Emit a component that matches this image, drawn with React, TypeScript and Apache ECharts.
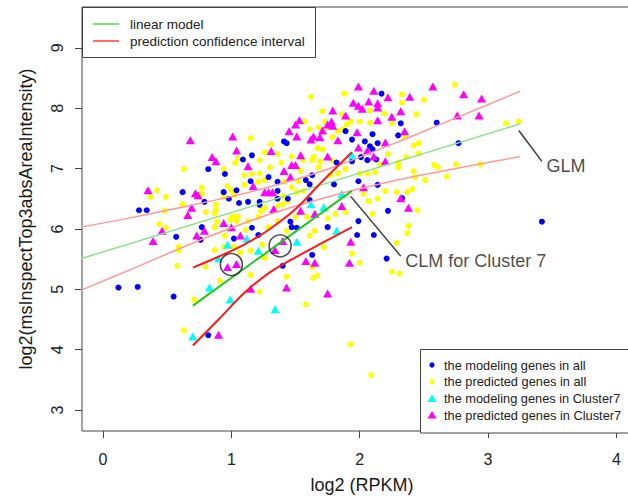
import React, { useEffect, useRef } from "react";
import * as echarts from "echarts";

const FONT = "Liberation Sans, Arial, Helvetica, sans-serif";

const xTicks = [0, 1, 2, 3, 4];
const yTicks = [3, 4, 5, 6, 7, 8, 9];

// the modeling genes in all (blue)
const modelingAll: number[][] = [
  [0.82, 6.99], [0.95, 6.91], [1.09, 7.15], [0.62, 6.61], [0.94, 6.61], [1.04, 6.64], [0.98, 6.5], [0.79, 6.45],
  [1.06, 6.43], [0.28, 6.31], [0.34, 6.31], [0.77, 6.03],
  [2.17, 8.24], [1.89, 7.62], [2.1, 7.57], [1.41, 7.45], [1.43, 7.42], [1.94, 7.48], [2.04, 7.45], [2.08, 7.37],
  [2.14, 7.42], [2.1, 7.32], [1.16, 7.22], [1.82, 7.1], [1.94, 7.12], [2.01, 7.19], [2.06, 7.14], [2.13, 7.15],
  [1.63, 6.89], [1.15, 6.79], [1.29, 6.86], [1.36, 6.78], [1.58, 6.81], [1.61, 6.74], [1.8, 6.74], [1.99, 6.79],
  [2.14, 6.73], [1.13, 6.45], [1.22, 6.45], [1.22, 6.4], [1.36, 6.63], [1.36, 6.5], [1.61, 6.48], [1.44, 6.5],
  [1.46, 6.12], [1.99, 6.13], [2.22, 6.3],
  [2.6, 7.76], [2.32, 7.75], [2.3, 7.55], [2.77, 7.42], [2.33, 6.51], [3.42, 6.12],
  [0.57, 5.87], [0.76, 5.82], [1.02, 5.84], [0.12, 5.03], [0.27, 5.04], [0.55, 4.88], [0.82, 4.24],
  [1.16, 6.02], [1.21, 5.9], [1.47, 6.03], [1.51, 6.02], [1.75, 6.03], [1.98, 5.9], [2.11, 5.9], [1.63, 5.57],
  [1.4, 5.39], [2.21, 5.51],
];

// the predicted genes in all (yellow)
const predictedAll: number[][] = [
  [0.63, 6.99], [0.94, 6.99], [1.03, 7.09], [1.05, 7.17], [0.42, 6.64], [0.37, 6.53], [0.49, 6.53], [0.77, 6.68],
  [0.77, 6.58], [0.62, 6.41], [0.48, 6.3], [0.88, 6.4], [0.88, 6.31], [0.87, 6.26], [0.8, 6.28], [0.97, 6.71],
  [1.0, 6.64], [0.94, 6.53], [1.02, 6.56], [0.44, 6.08], [0.49, 6.02], [0.89, 6.12], [0.99, 6.15], [1.01, 6.2],
  [1.05, 6.21], [1.04, 6.13], [0.87, 6.03], [1.1, 6.89], [1.1, 6.73],
  [1.62, 8.19], [1.88, 8.24], [1.71, 7.95], [1.86, 7.9], [1.93, 7.78], [1.9, 7.73], [2.08, 7.76], [2.08, 7.96],
  [2.19, 7.91], [2.25, 7.75], [2.0, 7.78], [1.83, 7.62], [1.87, 7.65], [1.79, 7.52], [1.75, 7.68], [1.73, 7.78],
  [1.68, 7.68], [1.61, 7.65], [1.57, 7.78], [1.15, 7.5], [1.31, 7.4], [1.36, 7.24], [1.22, 7.14], [1.26, 7.27],
  [1.47, 7.2], [1.71, 7.32], [1.67, 7.34], [1.64, 7.2], [1.63, 7.14], [1.69, 7.12], [1.78, 7.14], [1.56, 7.14],
  [1.39, 7.1], [1.3, 7.02], [1.22, 6.92], [1.26, 6.81], [1.16, 6.91], [1.21, 6.78], [1.41, 6.78], [1.52, 6.79],
  [1.77, 6.89], [1.83, 6.92], [1.89, 6.99], [2.0, 6.92], [2.06, 6.92], [2.12, 6.94], [2.16, 7.07], [2.22, 7.24],
  [1.68, 7.02], [1.54, 6.96], [1.47, 6.69], [1.51, 6.61], [1.56, 6.63], [1.4, 6.54], [1.44, 6.46], [1.4, 6.41],
  [1.36, 6.38], [1.26, 6.35], [1.23, 6.3], [1.21, 6.2], [1.36, 6.13], [1.5, 6.2], [1.59, 6.2], [1.75, 6.18],
  [1.81, 6.25], [1.89, 6.28], [2.1, 6.25], [1.13, 6.13], [1.29, 6.03], [1.65, 5.97], [2.03, 6.58], [2.07, 6.46],
  [2.14, 6.5], [2.2, 6.63],
  [2.74, 8.39], [2.33, 8.23], [2.5, 8.14], [2.33, 8.09], [2.44, 7.9], [2.35, 7.52], [2.42, 7.38], [2.46, 7.42],
  [2.46, 7.25], [2.36, 7.19], [2.3, 7.1], [2.3, 7.02], [3.14, 7.75], [3.24, 7.78], [2.58, 7.06], [2.61, 7.02],
  [2.75, 7.07], [2.94, 7.07], [2.42, 6.96], [2.43, 6.86], [2.51, 6.81], [2.68, 6.87], [2.41, 6.66], [2.37, 6.61],
  [2.29, 6.61], [2.45, 6.31], [2.38, 6.05], [2.37, 5.93],
  [0.59, 5.7], [0.59, 5.64], [0.58, 5.39], [0.8, 5.37], [0.87, 5.65], [0.94, 5.7], [0.95, 5.89], [1.02, 5.7],
  [1.07, 5.61], [0.91, 5.14], [0.71, 4.83], [0.63, 4.32],
  [1.11, 5.98], [1.43, 5.97], [1.61, 5.89], [1.72, 5.7], [1.94, 5.59], [2.0, 5.44], [1.63, 5.37], [1.67, 5.23],
  [1.64, 5.19], [1.43, 5.21], [1.15, 5.24], [1.15, 5.64], [1.22, 4.96], [1.58, 4.75], [1.93, 4.09], [2.09, 3.58],
  [2.25, 5.29], [1.24, 5.74], [1.26, 5.52], [2.29, 5.77], [2.31, 5.26],
];

// the modeling genes in Cluster7 (cyan)
const modelingC7: number[][] = [
  [1.94, 7.22], [1.86, 6.58], [1.62, 6.41], [1.72, 6.36], [1.82, 5.97], [0.9, 5.51], [0.97, 5.74], [0.83, 5.03],
  [0.99, 4.83], [0.7, 4.22], [1.12, 5.84], [1.21, 5.64], [1.51, 5.79], [1.34, 4.67],
];

// the predicted genes in Cluster7 (magenta)
const predictedC7: number[][] = [
  [0.68, 7.47], [1.01, 7.53], [1.04, 7.3], [0.85, 7.19], [0.88, 7.12], [0.35, 6.64], [0.72, 6.59], [0.74, 6.56],
  [0.69, 6.35], [0.66, 6.23], [0.94, 6.1], [1.0, 6.03], [0.46, 5.97], [0.79, 5.97],
  [1.99, 8.36], [2.11, 8.29], [2.22, 8.18], [1.95, 8.09], [1.99, 8.04], [2.07, 8.11], [2.14, 8.08], [2.14, 8.01],
  [2.02, 7.99], [1.79, 7.96], [1.89, 7.88], [2.25, 7.86], [1.53, 7.8], [1.78, 7.78], [1.75, 7.73], [1.79, 7.71],
  [1.5, 7.73], [2.14, 7.8], [1.45, 7.62], [1.51, 7.53], [1.71, 7.63], [1.64, 7.53], [1.62, 7.48], [1.69, 7.52],
  [1.83, 7.47], [1.98, 7.6], [1.99, 7.35], [2.2, 7.43], [2.06, 7.3], [2.11, 7.2], [1.31, 7.29], [1.54, 7.22],
  [1.75, 7.2], [2.2, 7.12], [1.13, 7.04], [1.47, 7.06], [1.5, 7.06], [1.41, 6.96], [1.46, 6.86], [1.17, 6.71],
  [1.26, 6.61], [1.29, 6.61], [1.32, 6.61], [2.03, 6.69], [1.33, 6.33], [1.54, 6.3], [1.86, 6.38], [1.65, 6.25],
  [2.57, 8.36], [2.39, 8.19], [2.81, 8.23], [2.95, 8.16], [2.32, 7.95], [2.76, 7.88], [2.93, 7.88], [2.35, 7.62],
  [2.32, 6.51], [2.38, 6.35],
  [0.39, 5.8], [0.73, 5.89], [1.07, 5.89], [0.97, 5.37], [1.04, 5.42], [0.9, 4.25],
  [1.4, 5.8], [1.34, 5.65], [1.58, 5.47], [1.65, 5.44], [1.93, 5.79], [1.92, 5.44], [1.15, 5.01], [1.43, 5.03],
  [1.75, 4.93],
];

// linear model and its prediction interval
const lmX = [-0.2, 3.25];
const lmY = [5.49, 7.74];
const ciX = [-0.2, 0.25, 0.75, 1.25, 1.75, 2.25, 2.75, 3.25];
const ciUpper = [6.02, 6.2, 6.42, 6.67, 6.99, 7.4, 7.84, 8.28];
const ciLower = [4.96, 5.36, 5.81, 6.21, 6.53, 6.79, 7.0, 7.2];

// CLM for Cluster 7
const c7FitX = [0.7, 1.94];
const c7FitY = [4.73, 6.63];
const c7UpperX = [0.7, 0.9, 1.1, 1.3, 1.5, 1.7, 1.94];
const c7UpperY = [5.36, 5.54, 5.74, 6.0, 6.33, 6.77, 7.27];
const c7LowerX = [0.7, 0.9, 1.1, 1.3, 1.5, 1.7, 1.94];
const c7LowerY = [4.07, 4.5, 4.94, 5.28, 5.53, 5.76, 6.03];

// highlighted genes (circles)
const circled: number[][] = [[1.0, 5.41], [1.38, 5.72]];

// annotation pointers
const glmPointer: number[][] = [[3.24, 7.63], [3.42, 7.12]];
const clmPointer: number[][] = [[1.93, 6.54], [2.32, 5.55]];

const zip = (xs: number[], ys: number[]) => xs.map((x, i) => [x, ys[i]]);

const legendItems = [
  { text: "the modeling genes in all", color: "#0000FF", shape: "dot" },
  { text: "the predicted genes in all", color: "#FFFF00", shape: "dot" },
  { text: "the modeling genes in Cluster7", color: "#00FFFF", shape: "tri" },
  { text: "the predicted genes in Cluster7", color: "#FF00FF", shape: "tri" },
];

export default function App() {
  const ref = useRef<HTMLDivElement>(null);
  useEffect(() => {
    const chart = echarts.init(ref.current!, null, { renderer: "svg" });
    const lineS = (data: number[][], color: string, width: number, smooth: any, z: number) => ({
      type: "line",
      data,
      showSymbol: false,
      symbol: "none",
      smooth,
      silent: true,
      clip: true,
      z,
      lineStyle: { color, width },
    });
    const scatterS = (data: number[][], color: string, symbol: string, size: any, z: number) => ({
      type: "scatter",
      data,
      symbol,
      symbolSize: size,
      silent: true,
      z,
      itemStyle: { color, opacity: 1 },
    });
    const pointerLabel = (pts: number[][], text: string) => [
      lineS(pts, "#3a3a3a", 1.5, false, 6),
      {
        type: "scatter",
        data: [pts[1]],
        symbolSize: 1,
        silent: true,
        z: 7,
        itemStyle: { color: "rgba(0,0,0,0)" },
        label: {
          show: true,
          position: "right",
          distance: 4,
          offset: [0, 5],
          formatter: text,
          fontFamily: FONT,
          fontSize: 18,
          color: "#1a1a1a",
        },
      },
    ];

    const legend2: any[] = [
      {
        type: "rect",
        shape: { x: 420.5, y: 349.5, width: 240, height: 83.5 },
        style: { fill: "#fff", stroke: "#444", lineWidth: 1 },
        z: 100,
      },
    ];
    legendItems.forEach((it, i) => {
      const cy = 365 + i * 16.7;
      if (it.shape === "dot") {
        legend2.push({ type: "circle", shape: { cx: 432, cy, r: 2.6 }, style: { fill: it.color }, z: 101 });
      } else {
        legend2.push({
          type: "polygon",
          shape: { points: [[427.5, cy + 3.5], [436.5, cy + 3.5], [432, cy - 4]] },
          style: { fill: it.color },
          z: 101,
        });
      }
      legend2.push({
        type: "text",
        x: 444,
        y: cy,
        style: { text: it.text, fontFamily: FONT, fontSize: 12.8, fill: "#222", verticalAlign: "middle" },
        z: 101,
      });
    });

    const option: any = {
      animation: false,
      backgroundColor: "#fff",
      grid: { left: 82, top: 7, width: 560, height: 426, show: true, borderColor: "#444", borderWidth: 1, backgroundColor: "transparent" },
      xAxis: {
        type: "value",
        min: -0.164,
        max: 4.2,
        splitLine: { show: false },
        axisLine: { show: false, onZero: false },
        axisTick: { show: true, length: 7, customValues: xTicks, lineStyle: { color: "#444" } },
        axisLabel: { customValues: xTicks, fontSize: 16, color: "#222", margin: 20, fontFamily: FONT },
        name: "log2 (RPKM)",
        nameLocation: "middle",
        nameGap: 45,
        nameMoveOverlap: false,
        nameTextStyle: { fontSize: 18, color: "#1a1a1a", fontFamily: FONT },
      },
      yAxis: {
        type: "value",
        min: 2.654,
        max: 9.676,
        splitLine: { show: false },
        axisLine: { show: false, onZero: false },
        axisTick: { show: true, length: 7, customValues: yTicks, lineStyle: { color: "#444" } },
        axisLabel: { customValues: yTicks, fontSize: 16, color: "#222", margin: 17, rotate: 90, fontFamily: FONT },
        name: "log2(msInspectTop3absAreaIntensity)",
        nameLocation: "middle",
        nameGap: 47,
        nameMoveOverlap: false,
        nameTextStyle: { fontSize: 18, color: "#1a1a1a", fontFamily: FONT },
      },
      series: [
        scatterS(predictedAll, "#FFFF00", "circle", 6, 2),
        scatterS(modelingAll, "#0000FF", "circle", 6, 2),
        scatterS(modelingC7, "#00FFFF", "triangle", [9, 8], 3),
        scatterS(predictedC7, "#FF00FF", "triangle", [9, 8], 3),
        lineS(zip(lmX, lmY), "#8FDF8F", 1.5, false, 4),
        lineS(zip(ciX, ciUpper), "#FF9A9A", 1.5, 0.4, 4),
        lineS(zip(ciX, ciLower), "#FF9A9A", 1.5, 0.4, 4),
        lineS(zip(c7FitX, c7FitY), "#1EC81E", 2, false, 5),
        lineS(zip(c7UpperX, c7UpperY), "#FF1A1A", 2, 0.35, 5),
        lineS(zip(c7LowerX, c7LowerY), "#FF1A1A", 2, 0.35, 5),
        {
          type: "scatter",
          data: circled,
          symbol: "circle",
          symbolSize: 22,
          silent: true,
          z: 6,
          itemStyle: { color: "rgba(0,0,0,0)", borderColor: "#222", borderWidth: 1.6 },
        },
        ...pointerLabel(glmPointer, "GLM"),
        ...pointerLabel(clmPointer, "CLM for Cluster 7"),
      ],
      graphic: [
        {
          type: "rect",
          shape: { x: 82.5, y: 7.5, width: 233, height: 50 },
          style: { fill: "#fff", stroke: "#444", lineWidth: 1 },
          z: 100,
        },
        { type: "line", shape: { x1: 93, y1: 24, x2: 119, y2: 24 }, style: { stroke: "#4CD94C", lineWidth: 1.5 }, z: 101 },
        { type: "line", shape: { x1: 93, y1: 41, x2: 119, y2: 41 }, style: { stroke: "#FF3B3B", lineWidth: 1.5 }, z: 101 },
        {
          type: "text",
          x: 130,
          y: 24,
          style: { text: "linear model", fontFamily: FONT, fontSize: 13.5, fill: "#222", verticalAlign: "middle" },
          z: 101,
        },
        {
          type: "text",
          x: 130,
          y: 41,
          style: { text: "prediction confidence interval", fontFamily: FONT, fontSize: 13.5, fill: "#222", verticalAlign: "middle" },
          z: 101,
        },
        ...legend2,
      ],
    };
    chart.setOption(option);
    return () => chart.dispose();
  }, []);
  return (
    <div style={{ position: "fixed", left: 0, top: 0, width: 628, height: 499, overflow: "hidden", background: "#fff" }}>
      <div ref={ref} style={{ position: "absolute", left: 0, top: 0, width: 660, height: 499 }} />
    </div>
  );
}
